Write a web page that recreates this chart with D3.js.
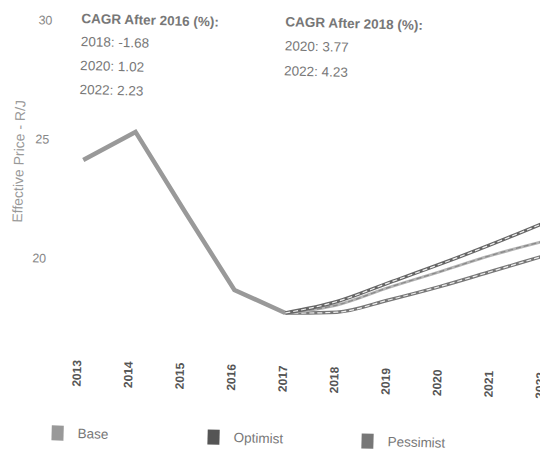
<!DOCTYPE html>
<html>
<head>
<meta charset="utf-8">
<script src="https://cdn.jsdelivr.net/npm/d3@7"></script>
<style>
  body { margin: 0; background: #fff; }
  text { font-family: "Liberation Sans", Arial, sans-serif; }
</style>
</head>
<body>
<div id="plot"></div>
<script>
// history + forecast values (R/J)
var histYears = [2013, 2014, 2015, 2016, 2017];
var histValues = [24.16, 25.4, 22.1, 18.87, 17.96];
var fcYears = [2017, 2018, 2019, 2020, 2021, 2022];
var optimist = [17.96, 18.5, 19.35, 20.2, 21.1, 22.05];
var base = [17.96, 18.35, 19.15, 19.88, 20.63, 21.27];
var pessimist = [17.96, 18.05, 18.62, 19.25, 19.95, 20.65];
var yTicks = [20, 25, 30];
var legendNames = ["Base", "Optimist", "Pessimist"];
var cagr2016 = ["2018: -1.68", "2020: 1.02", "2022: 2.23"];
var cagr2018 = ["2020: 3.77", "2022: 4.23"];

var width = 540, height = 460;

var svg = d3.select("#plot").append("svg")
	.attr("width", width)
	.attr("height", height);

// the whole picture sits slightly tilted
var g = svg.append("g")
	.attr("transform", "rotate(1.5,270,230)");

var x = d3.scaleLinear().domain([2013, 2022]).range([81.5, 545]);
var y = d3.scaleLinear().domain([20, 30]).range([264, 26]);

// y axis
var yAxis = g.append("g")
	.attr("transform", "translate(47,0)")
	.call(d3.axisLeft(y).tickValues(yTicks).tickSize(0).tickPadding(0));
yAxis.select(".domain").remove();
yAxis.selectAll("text")
	.attr("font-size", 12.5)
	.attr("fill", "#888")
	.style("font-family", "Liberation Sans, Arial, sans-serif");

g.append("text")
	.attr("transform", "translate(22,168) rotate(-90)")
	.attr("text-anchor", "middle")
	.attr("font-size", 14)
	.attr("fill", "#999")
	.text("Effective Price - R/J");

// x axis, rotated year labels
var xAxis = g.append("g")
	.attr("transform", "translate(-1.5,365)")
	.call(d3.axisBottom(x).tickValues(d3.range(2013, 2023)).tickFormat(d3.format("d")).tickSize(0).tickPadding(0));
xAxis.select(".domain").remove();
xAxis.selectAll("text")
	.attr("transform", "rotate(-90)")
	.attr("text-anchor", "end")
	.attr("x", 0)
	.attr("y", 0)
	.attr("dy", "0.35em")
	.attr("font-size", 12)
	.attr("font-weight", "bold")
	.attr("fill", "#555")
	.style("font-family", "Liberation Sans, Arial, sans-serif");

var line = d3.line()
	.x(function(d) { return x(d[0]); })
	.y(function(d) { return y(d[1]); })
	.curve(d3.curveMonotoneX);

var histLine = d3.line()
	.x(function(d) { return x(d[0]); })
	.y(function(d) { return y(d[1]); });

function pairs(years, vals) {
	return years.map(function(yr, i) { return [yr, vals[i]]; });
}

// history
g.append("path")
	.datum(pairs(histYears, histValues))
	.attr("d", histLine)
	.attr("fill", "none")
	.attr("stroke", "#999")
	.attr("stroke-width", 4.5)
	.attr("stroke-linejoin", "miter");

// forecasts: dark edge with a light dashed core
function hollow(vals, outer, inner, w) {
	var data = pairs(fcYears, vals);
	g.append("path")
		.datum(data)
		.attr("d", line)
		.attr("fill", "none")
		.attr("stroke", outer)
		.attr("stroke-width", w);
	g.append("path")
		.datum(data)
		.attr("d", line)
		.attr("fill", "none")
		.attr("stroke", inner)
		.attr("stroke-width", 1.2)
		.attr("stroke-dasharray", "5,3");
}
hollow(pessimist, "#777", "#eee", 3.5);
hollow(base, "#b5b5b5", "#888", 3);
hollow(optimist, "#666", "#eee", 3.5);

// CAGR notes
var note1 = g.append("g").attr("fill", "#777").attr("font-size", 13.5);
note1.append("text").attr("x", 76).attr("y", 28).attr("font-weight", "bold").text("CAGR After 2016 (%):");
note1.selectAll(".v").data(cagr2016).enter().append("text")
	.attr("x", 76)
	.attr("y", function(d, i) { return 51 + i * 24; })
	.text(function(d) { return d; });

var note2 = g.append("g").attr("fill", "#777").attr("font-size", 13.5);
note2.append("text").attr("x", 280).attr("y", 26).attr("font-weight", "bold").text("CAGR After 2018 (%):");
note2.selectAll(".v").data(cagr2018).enter().append("text")
	.attr("x", 280)
	.attr("y", function(d, i) { return 50 + i * 25; })
	.text(function(d) { return d; });

// legend
var legendColor = {"Base": "#999", "Optimist": "#555", "Pessimist": "#777"};
var legendX = [57, 213, 367];
var leg = g.selectAll(".leg").data(legendNames).enter().append("g")
	.attr("transform", function(d, i) { return "translate(" + legendX[i] + ",431)"; });
leg.append("rect")
	.attr("width", 12)
	.attr("height", 15)
	.attr("fill", function(d) { return legendColor[d]; });
leg.append("text")
	.attr("x", 26)
	.attr("y", 12)
	.attr("font-size", 13.5)
	.attr("fill", "#777")
	.text(function(d) { return d; });
</script>
</body>
</html>
